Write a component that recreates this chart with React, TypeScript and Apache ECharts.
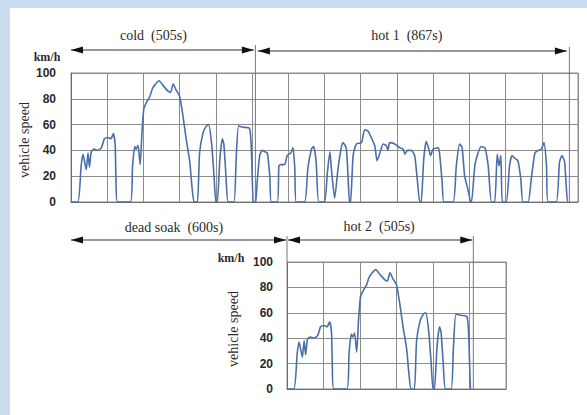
import React, { useEffect, useRef } from "react";
import * as echarts from "echarts";

// speed (km/h) vs time (s) — cold-start phase (0–505 s)
const coldPhase: [number, number][] = [
  [0, 0], [19, 0], [28, 28], [33, 37], [37, 32], [42, 25], [47, 38], [51, 27], [56, 39],
  [64, 41], [73, 40], [84, 42], [92, 49], [101, 50], [110, 49], [117, 53], [122, 44],
  [124, 20], [128, 0], [164, 0], [170, 28], [176, 43], [180, 41], [185, 44], [191, 29],
  [196, 54], [201, 72], [208, 77], [218, 82], [225, 88], [232, 91], [243, 94], [255, 90],
  [268, 86], [275, 85], [282, 91.5], [290, 87], [300, 82], [309, 67], [318, 49], [328, 31],
  [334, 12], [340, 0], [349, 0], [355, 38], [365, 54], [374, 59], [380, 60], [388, 46],
  [395, 20], [400, 0], [404, 0], [411, 33], [418, 49], [422, 45], [428, 20], [434, 0],
  [450, 0], [456, 33], [463, 59], [475, 58], [493, 57], [498, 41], [503, 0], [505, 0],
];

// hot-stabilized phase 1 (505–1372 s)
const hot1Phase: [number, number][] = [
  [505, 0], [510, 0], [514, 15], [521, 36], [528, 40], [535, 39], [542, 38], [549, 20],
  [553, 0], [570, 0], [574, 28], [579, 29], [590, 29], [597, 36], [607, 38], [613, 42],
  [618, 26], [622, 0], [645, 0], [654, 26], [664, 41], [670, 43], [677, 31], [684, 0],
  [700, 0], [708, 23], [715, 39], [719, 26], [728, 3], [737, 25], [745, 40], [751, 46],
  [760, 42], [765, 20], [769, 0], [772, 0], [779, 36], [788, 45], [802, 46], [811, 56],
  [820, 55], [829, 50], [839, 43.5], [845, 32], [853, 38], [862, 45], [871, 43.5],
  [875, 40], [880, 46], [894, 45], [908, 42], [917, 41], [922, 37], [929, 40], [940, 40],
  [949, 36], [956, 18], [963, 0], [967, 0], [974, 33], [981, 47], [988, 41], [993, 36],
  [1000, 41], [1014, 42], [1018, 37], [1025, 15], [1030, 0], [1055, 0], [1064, 28],
  [1073, 45], [1080, 42], [1087, 20], [1096, 10], [1104, 0], [1106, 0], [1115, 28],
  [1124, 38], [1133, 43], [1143, 42], [1152, 28], [1161, 0], [1170, 0], [1177, 37],
  [1182, 28], [1187, 36], [1191, 0], [1202, 0], [1211, 28], [1218, 36], [1225, 34],
  [1234, 32], [1242, 18], [1248, 0], [1262, 0], [1271, 18], [1281, 38], [1290, 40],
  [1299, 41], [1306, 46], [1313, 28], [1317, 0], [1340, 0], [1349, 31], [1356, 36],
  [1363, 31], [1371, 0], [1372, 0],
];

// hot-start phase 2 (same schedule as the cold phase)
const hot2Phase: [number, number][] = coldPhase;

const speedTicks = [0, 20, 40, 60, 80, 100];
const phaseLabels = ["cold  (505s)", "hot 1  (867s)", "dead soak  (600s)", "hot 2  (505s)"];
const phaseDurations = [505, 867, 600, 505];

const LINE = "#4a6fa8";
const GRIDC = "#8c8c8c";
const TXT = "#2a2a2a";
const SERIF = "'Liberation Serif', 'DejaVu Serif', serif";
const SANS = "'Liberation Sans', Arial, sans-serif";

export default function App() {
  const ref = useRef<HTMLDivElement>(null);
  useEffect(() => {
    if (!ref.current) return;
    const chart = echarts.init(ref.current, null, { renderer: "svg" });
    const yAxisCommon = {
      type: "value" as const,
      min: speedTicks[0],
      max: speedTicks[speedTicks.length - 1],
      interval: 20,
      axisLine: { show: true, lineStyle: { color: "#6f6f6f", width: 1 } },
      axisTick: { show: false },
      splitLine: { show: true, lineStyle: { color: GRIDC, width: 1 } },
      axisLabel: {
        color: TXT,
        fontFamily: SANS,
        fontWeight: "bold" as const,
        fontSize: 12,
        margin: 15,
      },
    };
    const xAxisCommon = {
      type: "value" as const,
      min: 0,
      interval: 100,
      axisLine: { show: true, lineStyle: { color: "#6f6f6f", width: 1 } },
      axisTick: { show: false },
      axisLabel: { show: false },
      splitLine: { show: true, lineStyle: { color: GRIDC, width: 1 } },
    };
    chart.setOption({
      animation: false,
      backgroundColor: "transparent",
      grid: [
        { left: 71, top: 73, width: 507, height: 129, show: true, borderColor: GRIDC, borderWidth: 1 },
        { left: 287, top: 262, width: 219, height: 127, show: true, borderColor: GRIDC, borderWidth: 1 },
      ],
      xAxis: [
        { ...xAxisCommon, gridIndex: 0, max: 1400 },
        { ...xAxisCommon, gridIndex: 1, max: 600 },
      ],
      yAxis: [
        { ...yAxisCommon, gridIndex: 0 },
        { ...yAxisCommon, gridIndex: 1, axisLabel: { ...yAxisCommon.axisLabel, margin: 14 } },
      ],
      series: [
        {
          type: "line", xAxisIndex: 0, yAxisIndex: 0, data: coldPhase, showSymbol: false,
          lineStyle: { color: LINE, width: 1.6 }, smooth: 0.2,
        },
        {
          type: "line", xAxisIndex: 0, yAxisIndex: 0, data: hot1Phase, showSymbol: false,
          lineStyle: { color: LINE, width: 1.6 }, smooth: 0.2,
        },
        {
          type: "line", xAxisIndex: 1, yAxisIndex: 1, data: hot2Phase, showSymbol: false,
          lineStyle: { color: LINE, width: 1.6 }, smooth: 0.2,
        },
      ],
    });

    const p0 = (t: number, v: number) => chart.convertToPixel({ gridIndex: 0 }, [t, v]) as number[];
    const p1 = (t: number, v: number) => chart.convertToPixel({ gridIndex: 1 }, [t, v]) as number[];

    const coldEnd = phaseDurations[0];
    const hot1End = phaseDurations[0] + phaseDurations[1];
    const [xTop0, yTopBottom] = p0(0, 0);
    const [xColdEnd] = p0(coldEnd, 0);
    const [xHot1End] = p0(hot1End, 0);
    const [xBot0, yBotBottom] = p1(0, 0);
    const [, yBotTop] = p1(0, 100);
    const [xHot2End] = p1(phaseDurations[3], 0);

    const arrowStyle = { stroke: "#333", lineWidth: 1 };
    const head = (x: number, y: number, dir: number) => ({
      type: "polygon",
      shape: { points: [[x, y], [x - dir * 12, y - 3.5], [x - dir * 12, y + 3.5]] },
      style: { fill: "#111" },
    });
    const arrow = (xa: number, xb: number, y: number) => [
      { type: "line", shape: { x1: xa, y1: y, x2: xb, y2: y }, style: arrowStyle },
      head(xa, y, -1),
      head(xb, y, 1),
    ];
    const vline = (x: number, y1: number, y2: number) => ({
      type: "line",
      shape: { x1: x, y1, x2: x, y2 },
      style: { stroke: "#777", lineWidth: 1 },
    });
    const label = (text: string, x: number, y: number, size = 14) => ({
      type: "text",
      x,
      y,
      style: {
        text,
        fill: TXT,
        font: `${size}px ${SERIF}`,
        textAlign: "center",
        textVerticalAlign: "middle",
      },
    });
    const rotLabel = (text: string, x: number, y: number) => ({
      type: "text",
      x,
      y,
      rotation: Math.PI / 2,
      style: {
        text,
        fill: TXT,
        font: `14px ${SERIF}`,
        textAlign: "center",
        textVerticalAlign: "middle",
      },
    });
    const unit = (x: number, y: number) => ({
      type: "text",
      x,
      y,
      style: {
        text: "km/h",
        fill: TXT,
        font: `bold 12px ${SERIF}`,
        textAlign: "center",
        textVerticalAlign: "middle",
      },
    });

    const yTopArrow = 50;
    const yBotArrow = 240;

    chart.setOption({
      graphic: [
        // background: light blue frame with white panel
        { type: "rect", z: -10, silent: true, shape: { x: 0, y: 0, width: 587, height: 415 }, style: { fill: "#cadcef" } },
        { type: "rect", z: -9, silent: true, shape: { x: 10, y: 8, width: 577, height: 407 }, style: { fill: "#ffffff" } },
        // phase boundaries
        vline(xColdEnd + 1.5, yTopArrow - 5, yTopBottom),
        vline(xHot1End + 1.5, yTopArrow - 3, yTopBottom),
        vline(xBot0, yBotArrow - 4, yBotTop),
        vline(xHot2End + 2, yBotArrow - 4, yBotBottom),
        // arrows
        ...arrow(xTop0, xColdEnd, yTopArrow),
        ...arrow(xColdEnd + 4, xHot1End - 1, yTopArrow + 1),
        ...arrow(xTop0, xBot0 - 1, yBotArrow),
        ...arrow(xBot0 + 1, xHot2End + 1, yBotArrow),
        // labels
        label(phaseLabels[0], (xTop0 + xColdEnd) / 2 - 9, 35),
        label(phaseLabels[1], (xColdEnd + xHot1End) / 2 - 4, 35),
        label(phaseLabels[2], (xTop0 + xBot0) / 2 - 5, 227),
        label(phaseLabels[3], (xBot0 + xHot2End) / 2, 226),
        unit(47, 57),
        unit(231, 258),
        rotLabel("vehicle speed", 24, 140),
        rotLabel("vehicle speed", 233, 329),
      ],
    });

    return () => chart.dispose();
  }, []);
  return (
    <div
      ref={ref}
      style={{ position: "fixed", left: 0, top: 0, width: 587, height: 415, background: "#fff" }}
    />
  );
}
